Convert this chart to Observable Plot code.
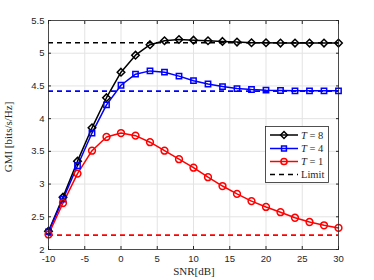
<!DOCTYPE html>
<html>
<head>
<meta charset="utf-8">
<script src="https://cdn.jsdelivr.net/npm/d3@7"></script>
<script src="https://cdn.jsdelivr.net/npm/@observablehq/plot@0.6"></script>
<style>
  html, body { margin: 0; padding: 0; background: #fff; }
  #chart { position: relative; width: 374px; height: 280px; }
</style>
</head>
<body>
<div id="chart"></div>
<script>
const snr = [-10,-8,-6,-4,-2,0,2,4,6,8,10,12,14,16,18,20,22,24,26,28,30];
const gmiT8 = [2.28,2.80,3.35,3.86,4.32,4.71,4.97,5.13,5.19,5.21,5.20,5.19,5.18,5.17,5.16,5.16,5.155,5.155,5.155,5.155,5.155];
const gmiT4 = [2.27,2.77,3.28,3.78,4.21,4.51,4.68,4.73,4.71,4.65,4.58,4.53,4.49,4.46,4.445,4.435,4.43,4.425,4.425,4.425,4.425];
const gmiT1 = [2.23,2.71,3.16,3.51,3.72,3.78,3.74,3.64,3.51,3.38,3.25,3.105,2.97,2.85,2.74,2.65,2.57,2.485,2.42,2.37,2.33];
const limits = [5.16, 4.42, 2.22];
const seriesNames = ["T = 8", "T = 4", "T = 1"];
const seriesColors = ["#000000", "#0000ff", "#ff0000"];
const seriesSymbols = ["diamond2", "square2", "circle"];
const xTicks = [-10,-5,0,5,10,15,20,25,30];
const yTicks = [2,2.5,3,3.5,4,4.5,5,5.5];

const allSeries = [gmiT8, gmiT4, gmiT1];
const rows = [];
allSeries.forEach((vals, k) => vals.forEach((v, i) => rows.push({snr: snr[i], gmi: v, s: seriesNames[k]})));
const limitRows = limits.map((v, k) => ({gmi: v, s: seriesNames[k]}));

const plot = Plot.plot({
  width: 374,
  height: 280,
  marginLeft: 48,
  marginRight: 36,
  marginTop: 20,
  marginBottom: 31,
  style: {fontFamily: "Liberation Sans, Arial, sans-serif", fontSize: "9.5px", color: "#262626", background: "#fff"},
  x: {domain: [-10, 30]},
  y: {domain: [2, 5.5]},
  color: {domain: seriesNames, range: seriesColors},
  symbol: {domain: seriesNames, range: seriesSymbols},
  marks: [
    Plot.gridX(xTicks, {stroke: "#e3e3e3", strokeOpacity: 1}),
    Plot.gridY(yTicks, {stroke: "#e3e3e3", strokeOpacity: 1}),
    Plot.ruleY(limitRows, {y: "gmi", stroke: "s", strokeWidth: 1.6, strokeDasharray: "5,4"}),
    Plot.line(rows, {x: "snr", y: "gmi", z: "s", stroke: "s", strokeWidth: 1.5}),
    Plot.dot(rows, {x: "snr", y: "gmi", stroke: "s", symbol: "s", r: 3.4, strokeWidth: 1.5, fill: "none"}),
    Plot.axisX(xTicks, {anchor: "bottom", tickSize: -3, tickPadding: 8.5, tickFormat: d => String(d), label: null, stroke: "#262626", fill: "#262626"}),
    Plot.axisX(xTicks, {anchor: "top", tickSize: -3, tickFormat: () => "", label: null, stroke: "#262626"}),
    Plot.axisY(yTicks, {anchor: "left", tickSize: -3, tickPadding: 7, tickFormat: d => String(d), label: null, stroke: "#262626", fill: "#262626"}),
    Plot.axisY(yTicks, {anchor: "right", tickSize: -3, tickFormat: () => "", label: null, stroke: "#262626"}),
    Plot.frame({stroke: "#262626", strokeWidth: 0.8})
  ]
});
document.getElementById("chart").appendChild(plot);

// Axis labels and legend
const svg = d3.select(plot);
const serif = "Liberation Serif, Times New Roman, serif";
svg.append("text")
  .attr("x", 194).attr("y", 275)
  .attr("text-anchor", "middle")
  .attr("font-family", serif).attr("font-size", 11).attr("fill", "#262626")
  .text("SNR[dB]");
svg.append("text")
  .attr("transform", "translate(12,137) rotate(-90)")
  .attr("text-anchor", "middle")
  .attr("font-family", serif).attr("font-size", 11).attr("fill", "#262626")
  .text("GMI [bits/s/Hz]");

const lg = svg.append("g").attr("text-anchor", "start");
lg.append("rect").attr("x", 265.5).attr("y", 126.5).attr("width", 63).attr("height", 56)
  .attr("fill", "#fff").attr("stroke", "#262626").attr("stroke-width", 0.8);
const legendItems = [
  {label: "T = 8", color: seriesColors[0], sym: d3.symbolDiamond2},
  {label: "T = 4", color: seriesColors[1], sym: d3.symbolSquare2},
  {label: "T = 1", color: seriesColors[2], sym: d3.symbolCircle},
  {label: "Limit", color: "#000", sym: null}
];
const ly = [135, 148.5, 161.5, 174.5];
legendItems.forEach((it, i) => {
  const y = ly[i];
  lg.append("line").attr("x1", 270).attr("x2", 298).attr("y1", y).attr("y2", y)
    .attr("stroke", it.color).attr("stroke-width", 1.5)
    .attr("stroke-dasharray", it.sym ? null : "5,4");
  if (it.sym) {
    lg.append("path").attr("transform", `translate(284,${y})`)
      .attr("d", d3.symbol(it.sym, 30)())
      .attr("fill", "none").attr("stroke", it.color).attr("stroke-width", 1.5);
  }
  const t = lg.append("text").attr("x", 301).attr("y", y).attr("dy", "0.35em")
    .attr("text-anchor", "start")
    .attr("font-family", serif).attr("font-size", 10.5).attr("fill", "#262626");
  if (it.sym) {
    t.append("tspan").attr("font-style", "italic").text("T");
    t.append("tspan").text(" = " + it.label.slice(4));
  } else {
    t.text(it.label);
  }
});
</script>
</body>
</html>
